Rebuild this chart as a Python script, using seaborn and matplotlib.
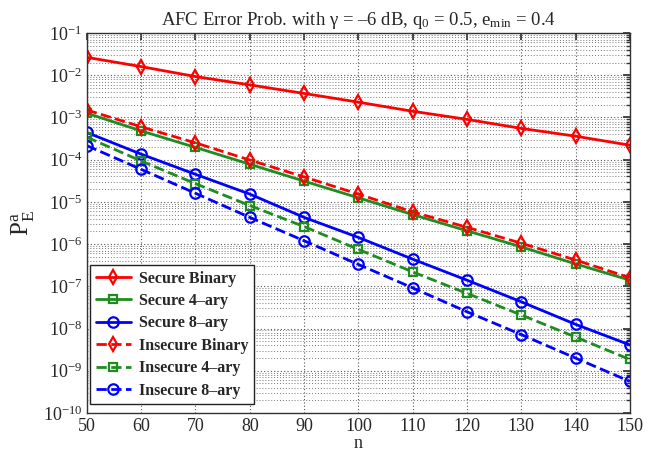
import numpy as np
import pandas as pd
import matplotlib
matplotlib.use("Agg")
import matplotlib.pyplot as plt
import seaborn as sns
from matplotlib.ticker import LogLocator, NullFormatter

n = [50, 60, 70, 80, 90, 100, 110, 120, 130, 140, 150]
secure_binary = [2.65e-2, 1.6e-2, 9.3e-3, 5.9e-3, 3.7e-3, 2.3e-3, 1.4e-3, 9.0e-4, 5.5e-4, 3.6e-4, 2.2e-4]
secure_4ary = [1.26e-3, 4.8e-4, 1.95e-4, 7.8e-5, 3.1e-5, 1.25e-5, 5.0e-6, 2.07e-6, 8.6e-7, 3.4e-7, 1.4e-7]
secure_8ary = [4.4e-4, 1.35e-4, 4.5e-5, 1.53e-5, 4.3e-6, 1.44e-6, 4.4e-7, 1.4e-7, 4.3e-8, 1.26e-8, 4.1e-9]
insecure_binary = [1.5e-3, 6.0e-4, 2.5e-4, 9.8e-5, 3.9e-5, 1.53e-5, 5.8e-6, 2.5e-6, 1.05e-6, 4.2e-7, 1.6e-7]
insecure_4ary = [3.4e-4, 9.3e-5, 2.7e-5, 8.2e-6, 2.6e-6, 7.5e-7, 2.2e-7, 6.8e-8, 2.1e-8, 6.3e-9, 1.85e-9]
insecure_8ary = [2.15e-4, 5.9e-5, 1.6e-5, 4.3e-6, 1.2e-6, 3.3e-7, 9.2e-8, 2.5e-8, 7.2e-9, 2.0e-9, 5.6e-10]

labels = ["Secure Binary", "Secure 4\u2013ary", "Secure 8\u2013ary",
          "Insecure Binary", "Insecure 4\u2013ary", "Insecure 8\u2013ary"]
series = [secure_binary, secure_4ary, secure_8ary, insecure_binary, insecure_4ary, insecure_8ary]

sns.set_theme(style="white")
plt.rcParams['font.family'] = ['Liberation Serif', 'DejaVu Serif']
plt.rcParams['mathtext.fontset'] = 'custom'
plt.rcParams['mathtext.rm'] = 'Liberation Serif'
plt.rcParams['mathtext.it'] = 'Liberation Serif:italic'
plt.rcParams['mathtext.bf'] = 'Liberation Serif:bold'

fig = plt.figure(figsize=(6.63, 4.55), dpi=100)
ax = fig.add_axes([0.131, 0.0923, 0.819, 0.8352])

colors = ['#ff0000', '#1e8c1e', '#0000ff', '#ff0000', '#1e8c1e', '#0000ff']
markers = ['d', 's', 'o', 'd', 's', 'o']
msizes = [7.5, 5.5, 7.5, 7.5, 5.5, 7.5]
lstyles = ['-', '-', '-', '--', '--', '--']

for lab, vals, c, m, ms, ls in zip(labels, series, colors, markers, msizes, lstyles):
    df = pd.DataFrame({"n": n, "p": vals})
    sns.lineplot(data=df, x="n", y="p", ax=ax, color=c, marker=m, markersize=ms,
                 markerfacecolor='none', markeredgecolor=c, markeredgewidth=1.6,
                 linewidth=2, linestyle=ls, label=lab)

ax.set_yscale('log')
ax.set_xlim(50, 150)
ax.set_ylim(1e-10, 1e-1)
ax.set_xticks(list(range(50, 151, 10)))
ax.yaxis.set_major_locator(LogLocator(base=10, numticks=20))
ax.yaxis.set_minor_locator(LogLocator(base=10, subs=np.arange(2, 10), numticks=100))
ax.yaxis.set_minor_formatter(NullFormatter())

ax.grid(True, which='major', axis='both', color='#555555', linestyle=(0, (1, 2)), linewidth=0.8)
ax.grid(True, which='minor', axis='y', color='#777777', linestyle=(0, (1, 2)), linewidth=0.7)

ax.tick_params(which='both', direction='in', top=True, right=True, labelsize=13,
               color='#333333')
ax.tick_params(which='major', length=5)
ax.tick_params(which='minor', length=3)
for sp in ax.spines.values():
    sp.set_color('#333333')
    sp.set_linewidth(1.0)

ax.set_xlabel("n", fontsize=13, labelpad=0)
ax.set_ylabel(r"$\mathrm{P}_{\mathrm{E}}^{\mathrm{a}}$", fontsize=18, labelpad=4)
ax.set_title("AFC Error Prob. with $\\mathrm{\\gamma}$ = \u20136 dB, q$_0$ = 0.5, e$_{\\mathrm{min}}$ = 0.4",
             fontsize=13.5, pad=6)

leg = ax.legend(loc='lower left', bbox_to_anchor=(0.0, 0.015), frameon=True, fancybox=False,
                prop={'weight': 'bold', 'size': 11.5}, handlelength=2.2, borderpad=0.35,
                labelspacing=0.4, handletextpad=0.5, borderaxespad=0.2)
leg.get_frame().set_edgecolor('#222222')
leg.get_frame().set_linewidth(1.0)
leg.get_frame().set_alpha(1)

fig.savefig("out.png", dpi=100)
